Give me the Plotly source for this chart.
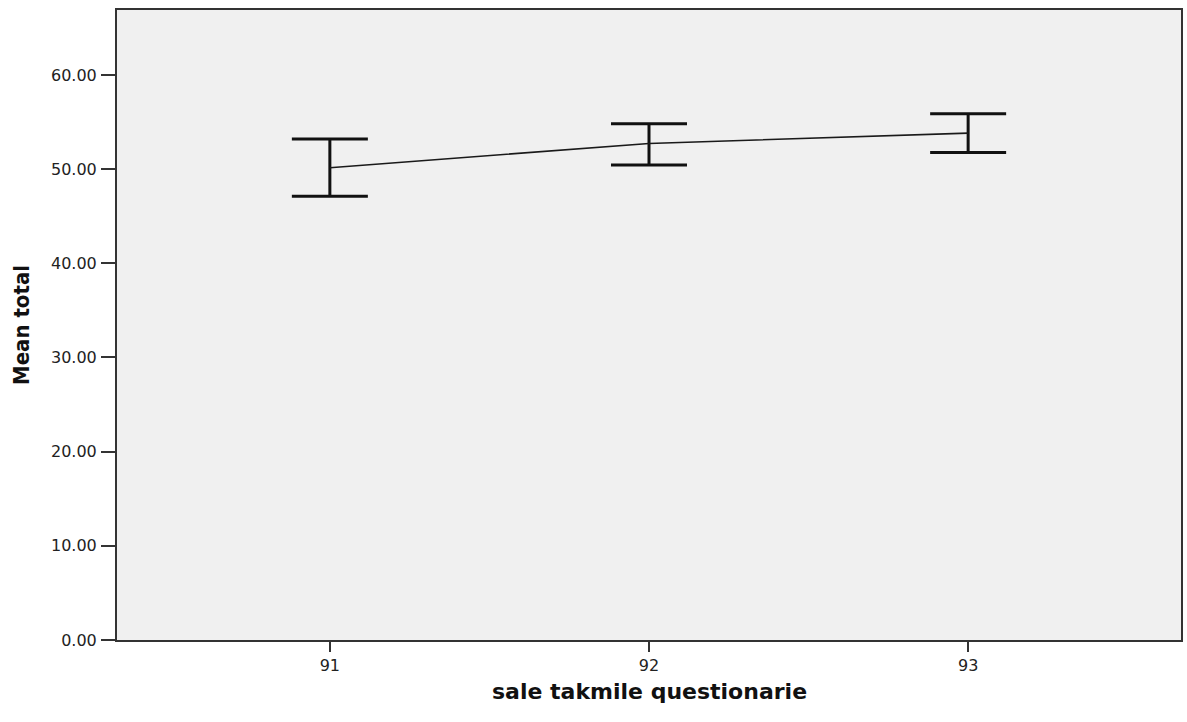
import plotly.graph_objects as go

categories = [91, 92, 93]
mean_total = [50.15, 52.73, 53.83]
upper_ci = [53.19, 54.83, 55.88]
lower_ci = [47.13, 50.43, 51.78]
y_ticks = [0, 10, 20, 30, 40, 50, 60]
y_tick_labels = ["0.00", "10.00", "20.00", "30.00", "40.00", "50.00", "60.00"]
x_title = "sale takmile questionarie"
y_title = "Mean total"

err_plus = [u - m for u, m in zip(upper_ci, mean_total)]
err_minus = [m - l for m, l in zip(mean_total, lower_ci)]

fig = go.Figure()
fig.add_trace(go.Scatter(
    x=categories, y=mean_total, mode="lines",
    line=dict(color="#1a1a1a", width=1.6),
    error_y=dict(type="data", symmetric=False, array=err_plus, arrayminus=err_minus,
                 color="#111111", thickness=3, width=38),
    showlegend=False, hoverinfo="skip",
))

fig.add_annotation(
    text="<b>" + x_title + "</b>", xref="paper", yref="paper", x=0.5, y=0,
    xanchor="center", yanchor="middle", yshift=-51, showarrow=False,
    font=dict(family="DejaVu Sans", size=22, color="#111111"),
)

fig.update_layout(
    width=1187, height=722,
    margin=dict(l=117, r=4, t=10, b=82),
    paper_bgcolor="white",
    plot_bgcolor="#F0F0F0",
    xaxis=dict(
        range=[90.333, 93.667], tickvals=categories, ticktext=[str(c) for c in categories],
        showgrid=False, zeroline=False, showline=True, linecolor="#333333", linewidth=2,
        mirror=True, ticks="outside", ticklen=10, tickwidth=2, tickcolor="#333333",
        tickfont=dict(family="DejaVu Sans", size=16, color="#222222"),
    ),
    yaxis=dict(
        range=[0, 66.9], tickvals=y_ticks, ticktext=y_tick_labels,
        showgrid=False, zeroline=False, showline=True, linecolor="#333333", linewidth=2,
        mirror=True, ticks="outside", ticklen=14, tickwidth=2, tickcolor="#333333",
        ticklabelstandoff=1,
        tickfont=dict(family="DejaVu Sans", size=16, color="#222222"),
        title=dict(text="<b>" + y_title + "</b>",
                   font=dict(family="DejaVu Sans Condensed, Liberation Sans", size=22, color="#111111"),
                   standoff=15),
    ),
)

fig.write_html(
    "out.html",
    config={"displayModeBar": False},
    post_script="document.body.style.margin='0';document.body.style.overflow='hidden';",
)
